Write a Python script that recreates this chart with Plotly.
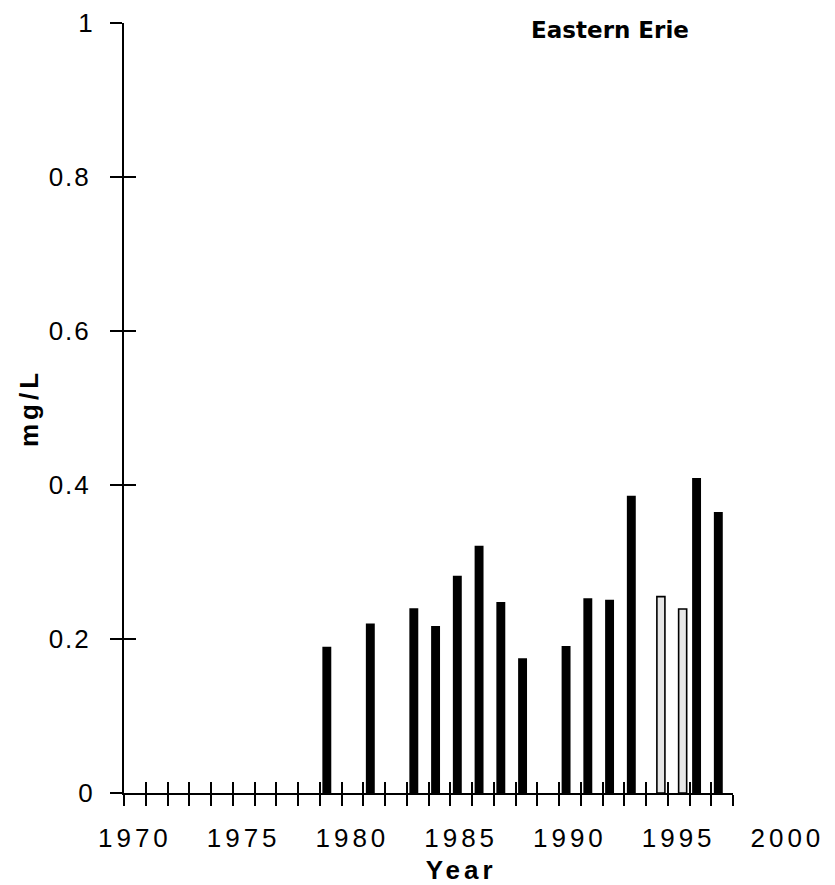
import plotly.graph_objects as go

# ---- data ----
years = list(range(1970, 1998))            # category years on the axis
label_years = [1970, 1975, 1980, 1985, 1990, 1995, 2000]
y_ticks = [0, 0.2, 0.4, 0.6, 0.8, 1]
y_tick_text = ["0", "0.2", "0.4", "0.6", "0.8", "1"]

black_years = [1979, 1981, 1983, 1984, 1985, 1986, 1987, 1988, 1990, 1991, 1992, 1993, 1996, 1997]
black_vals = [0.190, 0.220, 0.240, 0.217, 0.282, 0.321, 0.248, 0.175, 0.191, 0.253, 0.251, 0.386, 0.409, 0.365]
grey_years = [1994, 1995]
grey_vals = [0.255, 0.239]

title_text = "Eastern Erie"
x_title = "Year"
y_title = "mg/L"

# ---- geometry ----
W, H = 835, 885
px_left = 124.0          # pixel of first category boundary
px_per_year = 21.75
px_axis_end = px_left + len(years) * px_per_year
x_lo = years[0] - 0.5
x_hi_axis = years[-1] + 0.5
x_hi_labels = label_years[-1] + 0.5
px_label_end = px_left + (x_hi_labels - x_lo) * px_per_year
y_bottom_px, y_top_px = 793.0, 23.0

boundaries = [y - 0.5 for y in years] + [years[-1] + 0.5]

tick_font = dict(family="Liberation Sans, Arial, sans-serif", size=26, color="black")
title_font = dict(family="Liberation Sans, Arial, sans-serif", size=26, color="black", weight="bold")

fig = go.Figure()
fig.add_trace(go.Bar(
    x=black_years, y=black_vals, xaxis="x", yaxis="y",
    width=0.41, offset=-0.38,
    marker=dict(color="black", line=dict(color="black", width=0)),
    showlegend=False, hoverinfo="x+y",
))
fig.add_trace(go.Bar(
    x=grey_years, y=grey_vals, xaxis="x", yaxis="y",
    width=0.37, offset=0.0,
    marker=dict(color="#e6e6e6", line=dict(color="black", width=1.6)),
    showlegend=False, hoverinfo="x+y",
))
# empty traces that register the tick-only axes
fig.add_trace(go.Scatter(x=[], y=[], xaxis="x2", yaxis="y", showlegend=False, hoverinfo="skip"))
fig.add_trace(go.Scatter(x=[], y=[], xaxis="x3", yaxis="y", showlegend=False, hoverinfo="skip"))
fig.add_trace(go.Scatter(x=[], y=[], xaxis="x", yaxis="y2", showlegend=False, hoverinfo="skip"))

ydom = [(H - y_bottom_px) / H, (H - y_top_px) / H]

fig.update_layout(
    width=W, height=H, autosize=False,
    margin=dict(l=0, r=0, t=0, b=0, pad=0, autoexpand=False),
    paper_bgcolor="white", plot_bgcolor="rgba(0,0,0,0)",
    barmode="overlay",
    title=dict(text=title_text, x=610 / W, xref="paper", xanchor="center",
               y=1 - 30 / H, yref="paper", yanchor="middle", automargin=False,
               font=dict(family="DejaVu Sans, sans-serif", size=23, color="black", weight="bold")),
    xaxis=dict(
        domain=[px_left / W, px_label_end / W], range=[x_lo, x_hi_labels], anchor="y",
        tickmode="array", tickvals=label_years, ticktext=[str(v) for v in label_years],
        ticks="", showline=False, showgrid=False, zeroline=False, automargin=False,
        tickfont=tick_font, ticklabelstandoff=27,
        title=dict(text=x_title, font=title_font, standoff=11),
    ),
    xaxis2=dict(
        domain=[px_left / W, px_axis_end / W], range=[x_lo, x_hi_axis], anchor="y",
        tickmode="array", tickvals=boundaries, showticklabels=False,
        ticks="outside", ticklen=11, tickwidth=2, tickcolor="black",
        showline=True, linewidth=2, linecolor="black", automargin=False,
        showgrid=False, zeroline=False,
    ),
    xaxis3=dict(
        overlaying="x2", range=[x_lo, x_hi_axis], anchor="y",
        tickmode="array", tickvals=boundaries, showticklabels=False,
        ticks="inside", ticklen=11, tickwidth=2, tickcolor="black",
        showline=False, showgrid=False, zeroline=False, automargin=False,
    ),
    yaxis=dict(
        domain=ydom, range=[0, 1], anchor="x2",
        tickmode="array", tickvals=y_ticks, ticktext=y_tick_text,
        ticks="outside", ticklen=12, tickwidth=2, tickcolor="black",
        showline=True, linewidth=2, linecolor="black", automargin=False,
        showgrid=False, zeroline=False,
        tickfont=tick_font, ticklabelstandoff=10,
        title=dict(text=y_title, font=title_font, standoff=13),
    ),
    yaxis2=dict(
        overlaying="y", range=[0, 1], anchor="x2",
        tickmode="array", tickvals=y_ticks, showticklabels=False,
        ticks="inside", ticklen=12, tickwidth=2, tickcolor="black",
        showline=False, showgrid=False, zeroline=False, automargin=False,
    ),
)

post = """
var s=document.createElement('style');
s.textContent='html,body{margin:0;padding:0;overflow:hidden;}'
 + ' .xtick text, text.xtitle, text.ytitle {letter-spacing:4px;}'
 + ' .ytick text {letter-spacing:2px;}'
 + ' .ytick text[data-unformatted*="."] {translate:-4px 0;}';
document.head.appendChild(s);
"""
fig.write_html("out.html", post_script=post, config={"displayModeBar": False})
